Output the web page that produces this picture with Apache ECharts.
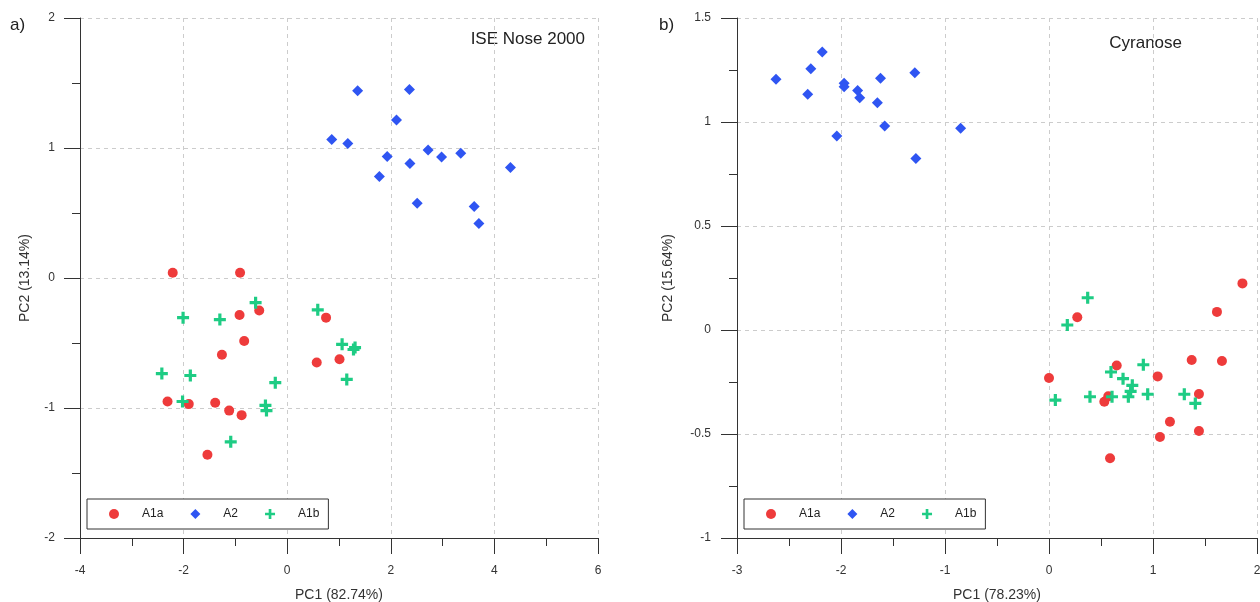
<!DOCTYPE html>
<html>
<head>
<meta charset="utf-8">
<script src="https://cdn.jsdelivr.net/npm/echarts@6/dist/echarts.min.js"></script>
<style>
html,body{margin:0;padding:0;background:#fff;}
#chart{width:1260px;height:602px;}
</style>
</head>
<body>
<div id="chart"></div>
<script>
// ---- Data (PCA scores) ----
const seriesNames = ['A1a', 'A2', 'A1b'];

const iseA1a = [[-2.21,0.04],[-0.91,0.04],[-0.54,-0.25],[-0.92,-0.285],[0.75,-0.305],[-0.83,-0.485],[-1.26,-0.59],[0.57,-0.65],[1.01,-0.625],[-2.31,-0.95],[-1.90,-0.97],[-1.39,-0.96],[-1.12,-1.02],[-0.88,-1.055],[-1.54,-1.36]];
const iseA2  = [[1.36,1.44],[2.36,1.45],[2.11,1.215],[0.86,1.065],[1.17,1.035],[1.93,0.935],[2.72,0.985],[2.98,0.93],[3.35,0.96],[2.37,0.88],[1.78,0.78],[4.31,0.85],[2.51,0.575],[3.61,0.55],[3.70,0.42]];
const iseA1b = [[-0.61,-0.19],[-2.01,-0.305],[-1.30,-0.32],[0.59,-0.245],[1.06,-0.51],[1.31,-0.535],[1.28,-0.55],[1.15,-0.78],[-2.42,-0.735],[-1.87,-0.75],[-0.23,-0.805],[-2.02,-0.95],[-0.42,-0.98],[-0.40,-1.02],[-1.09,-1.26]];

const cyrA1a = [[1.86,0.224],[1.615,0.087],[0.272,0.061],[0.0,-0.231],[1.372,-0.144],[1.663,-0.149],[0.651,-0.171],[1.045,-0.223],[0.532,-0.345],[0.57,-0.319],[1.442,-0.308],[1.163,-0.441],[1.442,-0.486],[1.067,-0.514],[0.587,-0.617]];
const cyrA2  = [[-2.625,1.205],[-2.18,1.337],[-2.29,1.256],[-2.32,1.133],[-1.97,1.186],[-1.97,1.170],[-1.84,1.152],[-1.82,1.117],[-1.62,1.210],[-1.65,1.093],[-1.29,1.237],[-1.58,0.981],[-2.04,0.933],[-0.85,0.970],[-1.28,0.825]];
const cyrA1b = [[0.372,0.155],[0.176,0.024],[0.061,-0.337],[0.394,-0.321],[0.596,-0.202],[0.606,-0.321],[0.712,-0.234],[0.801,-0.266],[0.785,-0.295],[0.763,-0.321],[0.907,-0.167],[0.949,-0.309],[1.301,-0.309],[1.407,-0.353]];

// axis ranges / ticks
const iseX = {min:-4, max:6, interval:2};
const iseY = {min:-2, max:2, interval:1};
const cyrX = {min:-3, max:2, interval:1};
const cyrY = {min:-1, max:1.5, interval:0.5};

const axisNames = {
  iseX: 'PC1 (82.74%)', iseY: 'PC2 (13.14%)',
  cyrX: 'PC1 (78.23%)', cyrY: 'PC2 (15.64%)'
};
const panelLabels = ['a)', 'b)'];
const panelTitles = ['ISE Nose 2000', 'Cyranose'];

// ---- Styling ----
const FONT = 'Liberation Sans, Arial, sans-serif';
const colors = {A1a:'#EE3B3B', A2:'#2F55F2', A1b:'#1ECC84'};
const plusPath = 'path://M4.4,0H7.6V4.4H12V7.6H7.6V12H4.4V7.6H0V4.4H4.4Z';
const symbols = {A1a:'circle', A2:'diamond', A1b:plusPath};
const sizes = {A1a:10, A2:11, A1b:12};

function axis(cfg, gridIndex, name, isX, nameGap, labelMargin) {
  return {
    type:'value', gridIndex, min:cfg.min, max:cfg.max, interval:cfg.interval,
    name, nameLocation:'middle', nameGap,
    nameTextStyle:{fontFamily:FONT, fontSize:14, color:'#333'},
    axisLine:{show:true, onZero:false, lineStyle:{color:'#333', width:1}},
    axisTick:{show:true, inside:false, length:16, lineStyle:{color:'#333'}},
    minorTick:{show:true, splitNumber:2, length:8, lineStyle:{color:'#333'}},
    splitLine:{show:true, lineStyle:{color:'#cccccc', type:[4,4], width:1}},
    minorSplitLine:{show:false},
    axisLabel:{fontFamily:FONT, fontSize:12, color:'#333', margin:labelMargin, showMinLabel:true, showMaxLabel:true}
  };
}

function mkSeries(name, data, idx) {
  return {
    type:'scatter', name, data, xAxisIndex:idx, yAxisIndex:idx,
    symbol:symbols[name], symbolSize:sizes[name],
    itemStyle:{color:colors[name], opacity:1},
    emphasis:{disabled:true}
  };
}

function mkLegend(left) {
  return {
    data:seriesNames, left, top:499, orient:'horizontal',
    itemWidth:10, itemHeight:10, itemGap:27,
    padding:[9, 9, 9, 22],
    borderColor:'#333', borderWidth:1, backgroundColor:'#fff',
    selectedMode:false,
    textStyle:{fontFamily:FONT, fontSize:12, color:'#222', padding:[0,0,0,18]}
  };
}

const option = {
  animation:false,
  backgroundColor:'#fff',
  grid:[
    {left:80, top:18, width:518, height:520, outerBoundsMode:'none', containLabel:false},
    {left:737, top:18, width:520, height:520, outerBoundsMode:'none', containLabel:false}
  ],
  xAxis:[
    axis(iseX, 0, axisNames.iseX, true, 50, 27),
    axis(cyrX, 1, axisNames.cyrX, true, 50, 27)
  ],
  yAxis:[
    axis(iseY, 0, axisNames.iseY, false, 48, 25),
    axis(cyrY, 1, axisNames.cyrY, false, 62, 26)
  ],
  legend:[mkLegend(87), mkLegend(744)],
  series:[
    mkSeries('A1a', iseA1a, 0), mkSeries('A2', iseA2, 0), mkSeries('A1b', iseA1b, 0),
    mkSeries('A1a', cyrA1a, 1), mkSeries('A2', cyrA2, 1), mkSeries('A1b', cyrA1b, 1)
  ],
  graphic:[
    {type:'text', left:10, top:17, style:{text:panelLabels[0], font:'17px '+FONT, fill:'#222'}},
    {type:'text', left:659, top:17, style:{text:panelLabels[1], font:'17px '+FONT, fill:'#222'}},
    {type:'text', right:1260-585, top:31, style:{text:panelTitles[0], font:'17px '+FONT, fill:'#222'}},
    {type:'text', right:1260-1182, top:35, style:{text:panelTitles[1], font:'17px '+FONT, fill:'#222'}}
  ]
};

const chart = echarts.init(document.getElementById('chart'), null, {renderer:'canvas'});
chart.setOption(option);
</script>
</body>
</html>
